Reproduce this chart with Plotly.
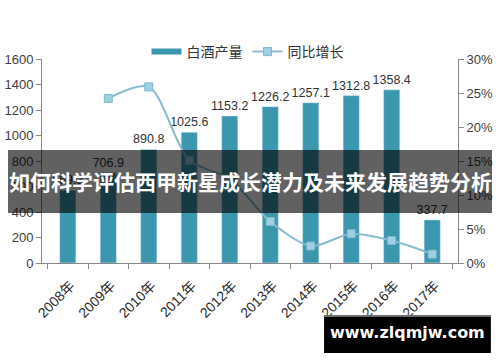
import plotly.graph_objects as go

years = ["2008年", "2009年", "2010年", "2011年", "2012年", "2013年", "2014年", "2015年", "2016年", "2017年"]
output = [569.3, 706.9, 890.8, 1025.6, 1153.2, 1226.2, 1257.1, 1312.8, 1358.4, 337.7]
growth = [None, 24.2, 25.9, 15.1, 12.4, 6.1, 2.5, 4.3, 3.3, 1.3]
left_ticks = [0, 200, 400, 600, 800, 1000, 1200, 1400, 1600]
right_ticks = [0, 5, 10, 15, 20, 25, 30]
right_labels = ["0%", "5%", "10%", "15%", "20%", "25%", "30%"]

title_text = "如何科学评估西甲新星成长潜力及未来发展趋势分析"
site_text = "www.zlqmjw.com"

BAR = "#3b97ae"
LINE = "#85bccf"

fig = go.Figure()
fig.add_trace(go.Bar(
    x=years, y=output, name="白酒产量", showlegend=False,
    marker=dict(color=BAR),
    text=[f"{v:.1f}" for v in output], textposition="outside",
    constraintext="none",
    textfont=dict(size=12.5, color="#333333", family="Liberation Sans"),
    cliponaxis=False,
))
fig.add_trace(go.Scatter(
    x=[None], y=[None], name="白酒产量", mode="lines",
    line=dict(color=BAR, width=6),
))
fig.add_trace(go.Scatter(
    x=years, y=growth, name="同比增长", yaxis="y2", mode="lines+markers",
    line=dict(color=LINE, width=2, shape="spline", smoothing=0.8),
    marker=dict(symbol="square", size=8, color="#9fcfe0", line=dict(color="#7fb8cc", width=1)),
))

fig.update_layout(
    width=500, height=362,
    margin=dict(l=42, r=42, t=59, b=99, autoexpand=False),
    paper_bgcolor="white", plot_bgcolor="white",
    bargap=0.6,
    font=dict(family="Noto Sans CJK SC, Liberation Sans", color="#404040", size=12),
    showlegend=True,
    legend=dict(orientation="h", x=0.495, xanchor="center", xref="container",
                y=1 - 52 / 362, yanchor="middle", yref="container",
                font=dict(size=14, color="#333333"), itemwidth=30, tracegroupgap=0,
                bgcolor="rgba(0,0,0,0)"),
    xaxis=dict(
        type="category", tickangle=-45, tickson="boundaries", automargin=False,
        showline=True, linecolor="#888888", linewidth=1,
        ticks="outside", ticklen=5, tickcolor="#888888",
        tickfont=dict(size=14, color="#2a2a2a", family="Liberation Sans, Noto Sans CJK SC"),
        ticklabelshift=3, ticklabelstandoff=8,
        showgrid=False,
    ),
    yaxis=dict(
        range=[0, 1600], tickvals=left_ticks, automargin=False,
        showline=True, linecolor="#888888", linewidth=1,
        ticks="outside", ticklen=5, tickcolor="#888888",
        showgrid=False, zeroline=False,
        tickfont=dict(size=13, color="#404040", family="Liberation Sans"),
    ),
    yaxis2=dict(
        overlaying="y", side="right", range=[0, 30], automargin=False,
        tickvals=right_ticks, ticktext=right_labels,
        showline=True, linecolor="#888888", linewidth=1,
        ticks="outside", ticklen=5, tickcolor="#888888",
        showgrid=False, zeroline=False,
        tickfont=dict(size=13, color="#404040", family="Liberation Sans"),
    ),
    shapes=[
        dict(type="rect", xref="paper", yref="paper", x0=-0.0817, x1=1.0817, y0=0.245, y1=0.554,
             fillcolor="rgba(0,0,0,0.62)", line=dict(width=0), layer="above"),
        dict(type="rect", xref="paper", yref="paper", x0=0.678, x1=1.079, y0=-0.441, y1=-0.255,
             fillcolor="black", line=dict(width=0), layer="above"),
        dict(type="rect", xref="paper", yref="paper", x0=0.678, x1=1.079, y0=-0.265, y1=-0.255,
             fillcolor="#6b6b6b", line=dict(width=0), layer="above"),
    ],
    annotations=[
        dict(text=f"<b>{title_text}</b>", xref="paper", yref="paper", x=0.5, y=0.40,
             xanchor="center", yanchor="middle", showarrow=False,
             font=dict(size=21, color="white", family="Noto Sans CJK SC")),
        dict(text=f"<b>{site_text}</b>", xref="paper", yref="paper", x=0.8785, y=-0.343,
             xanchor="center", yanchor="middle", showarrow=False,
             font=dict(size=16, color="white", family="DejaVu Sans")),
    ],
)

fig.write_html("out.html", config={"displayModeBar": False},
               post_script="document.body.style.margin='0';document.body.style.overflow='hidden';")
